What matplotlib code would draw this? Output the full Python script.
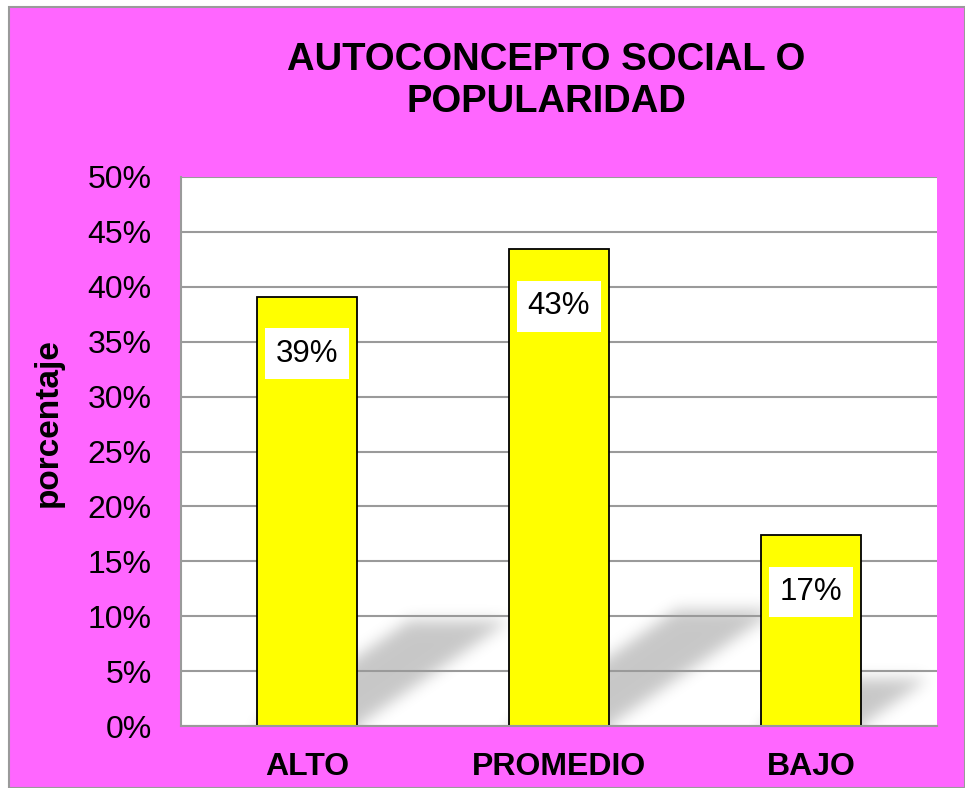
import numpy as np
import matplotlib
matplotlib.use("Agg")
from matplotlib import pyplot as plt
from matplotlib.path import Path
from matplotlib.patches import Rectangle
from matplotlib.ticker import PercentFormatter

# data ------------------------------------------------------------------
categories = ["ALTO", "PROMEDIO", "BAJO"]
values = [0.391, 0.434, 0.174]
value_labels = ["39%", "43%", "17%"]
yticks = [0.0, 0.05, 0.10, 0.15, 0.20, 0.25, 0.30, 0.35, 0.40, 0.45, 0.50]

plt.rcParams["font.family"] = ["Liberation Sans", "DejaVu Sans"]

W, H = 965, 788
fig = plt.figure(figsize=(W / 100, H / 100), dpi=100, facecolor="white")
# magenta chart area with thin grey border
fig.patches.append(Rectangle((9 / W, 0), 1 - 9 / W, 1 - 7 / H, transform=fig.transFigure,
                             facecolor="#FF66FF", edgecolor="#9A9A9A", linewidth=1.5, zorder=-5))

ax = fig.add_axes([181 / W, 62 / H, 756 / W, 549 / H])
ax.set_facecolor("white")
x = np.arange(len(categories))
bar_w = 0.397

# soft floor shadows behind the bars --------------------------------------
gx = np.linspace(-0.5, 3.0, 900)
gy = np.linspace(-0.1, 0.5, 600)
XX, YY = np.meshgrid(gx, gy)
pts = np.column_stack([XX.ravel(), YY.ravel()])
mask = np.zeros(XX.shape)
for xi, v in zip(x, values):
    h = 0.245 * v
    dx = 6.3 * h
    poly = Path([(xi - bar_w / 2, -0.1), (xi + bar_w / 2, -0.1), (xi + bar_w / 2, 0),
                 (xi + bar_w / 2 + dx, h), (xi - bar_w / 2 + dx, h), (xi - bar_w / 2, 0)])
    mask = np.maximum(mask, poly.contains_points(pts).reshape(XX.shape).astype(float))
k = np.exp(-0.5 * (np.arange(-25, 26) / 7.0) ** 2)
k /= k.sum()
mask = np.apply_along_axis(lambda r: np.convolve(r, k, mode="same"), 1, mask)
mask = np.apply_along_axis(lambda c: np.convolve(c, k, mode="same"), 0, mask)
rgba = np.zeros(mask.shape + (4,))
rgba[..., 3] = 0.22 * mask
ax.imshow(rgba, extent=[gx[0], gx[-1], gy[0], gy[-1]], origin="lower",
          aspect="auto", zorder=0.2, interpolation="bilinear")

# bars ------------------------------------------------------------------
ax.bar(x, values, width=bar_w, color="#FFFF00", edgecolor="black", linewidth=1.3, zorder=2)
for xi, v, lab in zip(x, values, value_labels):
    ax.annotate(lab, (xi, v), xytext=(0, -41), textcoords="offset points",
                ha="center", va="center", fontsize=22.5, zorder=3,
                bbox=dict(boxstyle="square,pad=0.33", facecolor="white", edgecolor="none"))

ax.set_xlim(-0.5, 2.5)
ax.set_ylim(0, 0.5)
ax.set_yticks(yticks)
ax.yaxis.set_major_formatter(PercentFormatter(1.0, decimals=0))
ax.set_xticks(x)
ax.set_xticklabels(categories, fontsize=23, fontweight="bold")
ax.tick_params(axis="y", length=0, pad=21, labelsize=23)
ax.tick_params(axis="x", length=0, pad=19)
ax.set_axisbelow(True)
ax.yaxis.grid(True, color="#9A9A9A", linewidth=1.5)
for s in ["top", "right"]:
    ax.spines[s].set_visible(False)
for s in ["left", "bottom"]:
    ax.spines[s].set_color("#9A9A9A")
    ax.spines[s].set_linewidth(1.5)

fig.text(546 / W, 1 - 81 / H, "AUTOCONCEPTO SOCIAL O\nPOPULARIDAD", ha="center", va="center",
         fontsize=27.5, fontweight="bold", linespacing=1.25)
fig.text(48 / W, 1 - 423 / H, "porcentaje", rotation=90, ha="center", va="center",
         fontsize=24, fontweight="bold")

fig.savefig("out.png", dpi=100, facecolor=fig.get_facecolor())
